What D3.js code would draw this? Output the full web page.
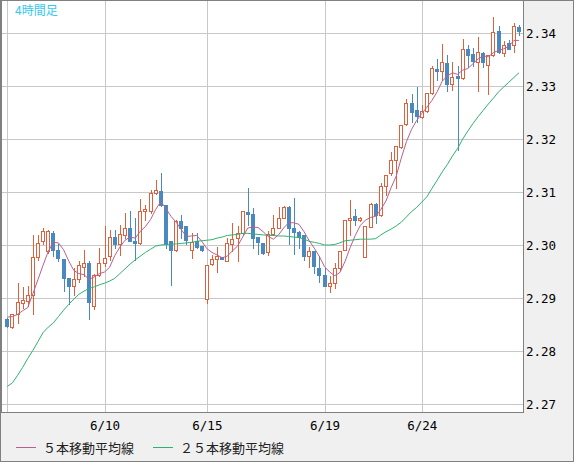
<!DOCTYPE html>
<html>
<head>
  <meta charset="utf-8">
  <title>4時間足</title>
  <script src="https://d3js.org/d3.v7.min.js"></script>
  <style>
    html, body { margin: 0; padding: 0; background: #f0f0f0; }
    svg { display: block; }
  </style>
</head>
<body>
  <svg id="chart" width="574" height="462"></svg>

  <script>
    // 4-hour candles
    const openPrices = [
      2.2860, 2.2845, 2.2869, 2.2891, 2.2894, 2.2906, 2.2977, 2.3007, 2.2988, 2.3023,
      2.2991, 2.2974, 2.2938, 2.2923, 2.2935, 2.2958, 2.2966, 2.2885, 2.2944, 2.2966,
      2.2979, 2.3015, 2.3001, 2.3019, 2.3032, 2.3008, 2.3004, 2.3064, 2.3064, 2.3099,
      2.3101, 2.3076, 2.3007, 2.2991, 2.3045, 2.3035, 2.2991, 2.3007, 2.2999, 2.2899,
      2.2964, 2.2974, 2.2977, 2.2970, 2.3001, 2.3013, 2.3023, 2.3062, 2.3058, 2.3016,
      2.3004, 2.2987, 2.3021, 2.3033, 2.3051, 2.3072, 2.3032, 2.3025, 2.3019, 2.2979,
      2.2988, 2.2957, 2.2944, 2.2922, 2.2928, 2.2957, 2.2991, 2.3048, 2.3054, 2.3047,
      2.2977, 2.3034, 2.3077, 2.3057, 2.3112, 2.3135, 2.3161, 2.3185, 2.3229, 2.3267,
      2.3254, 2.3242, 2.3252, 2.3286, 2.3333, 2.3329, 2.3343, 2.3303, 2.3318, 2.3315,
      2.3370, 2.3361, 2.3345, 2.3362, 2.3340, 2.3358, 2.3404, 2.3362, 2.3382, 2.3378,
      2.3411
    ];
    const highPrices = [
      2.2862, 2.2870, 2.2928, 2.2921, 2.2922, 2.3019, 2.3019, 2.3032, 2.3029, 2.3026,
      2.3001, 2.2974, 2.2938, 2.2957, 2.2970, 2.2990, 2.2969, 2.2946, 2.2994, 2.3035,
      2.3029, 2.3029, 2.3038, 2.3060, 2.3064, 2.3051, 2.3087, 2.3076, 2.3104, 2.3123,
      2.3136, 2.3076, 2.3007, 2.3047, 2.3056, 2.3035, 2.3023, 2.3023, 2.2999, 2.2963,
      2.2982, 2.2997, 2.2978, 2.3013, 2.3042, 2.3035, 2.3064, 2.3108, 2.3070, 2.3016,
      2.3004, 2.3026, 2.3057, 2.3071, 2.3073, 2.3074, 2.3089, 2.3026, 2.3019, 2.2997,
      2.2988, 2.2979, 2.2957, 2.2941, 2.2966, 2.2989, 2.3048, 2.3084, 2.3067, 2.3052,
      2.3036, 2.3079, 2.3079, 2.3117, 2.3133, 2.3175, 2.3187, 2.3227, 2.3275, 2.3284,
      2.3299, 2.3265, 2.3287, 2.3338, 2.3350, 2.3380, 2.3359, 2.3345, 2.3338, 2.3388,
      2.3377, 2.3372, 2.3392, 2.3364, 2.3359, 2.3430, 2.3413, 2.3384, 2.3387, 2.3419,
      2.3416
    ];
    const lowPrices = [
      2.2845, 2.2843, 2.2853, 2.2881, 2.2884, 2.2869, 2.2972, 2.3001, 2.2985, 2.2980,
      2.2969, 2.2914, 2.2889, 2.2906, 2.2931, 2.2941, 2.2860, 2.2879, 2.2941, 2.2960,
      2.2972, 2.2994, 2.2982, 2.3013, 2.3007, 2.2972, 2.3001, 2.3048, 2.3060, 2.3096,
      2.3073, 2.2994, 2.2925, 2.2988, 2.3013, 2.3001, 2.2975, 2.2994, 2.2989, 2.2891,
      2.2963, 2.2950, 2.2973, 2.2969, 2.2989, 2.2970, 2.3019, 2.3038, 2.2994, 2.2983,
      2.2983, 2.2982, 2.3018, 2.3032, 2.3050, 2.3001, 2.2983, 2.2994, 2.2972, 2.2958,
      2.2948, 2.2931, 2.2922, 2.2911, 2.2919, 2.2953, 2.2990, 2.3019, 2.3038, 2.3046,
      2.2977, 2.3034, 2.3042, 2.3054, 2.3095, 2.3133, 2.3108, 2.3183, 2.3227, 2.3233,
      2.3233, 2.3240, 2.3250, 2.3284, 2.3312, 2.3312, 2.3290, 2.3293, 2.3180, 2.3313,
      2.3335, 2.3337, 2.3290, 2.3336, 2.3284, 2.3356, 2.3362, 2.3356, 2.3369, 2.3364,
      2.3397
    ];
    const closePrices = [
      2.2847, 2.2869, 2.2892, 2.2897, 2.2906, 2.2977, 2.3004, 2.3026, 2.3026, 2.2990,
      2.2975, 2.2937, 2.2922, 2.2935, 2.2962, 2.2966, 2.2892, 2.2944, 2.2966, 2.2975,
      2.3015, 2.3001, 2.3021, 2.3032, 2.3007, 2.3004, 2.3064, 2.3067, 2.3099, 2.3103,
      2.3076, 2.3001, 2.2991, 2.3045, 2.3033, 2.3010, 2.3006, 2.2997, 2.2991, 2.2963,
      2.2974, 2.2979, 2.2974, 2.3004, 2.3012, 2.3023, 2.3064, 2.3059, 2.3013, 2.3005,
      2.2984, 2.3021, 2.3032, 2.3051, 2.3072, 2.3032, 2.3024, 2.3016, 2.2979, 2.2989,
      2.2960, 2.2944, 2.2922, 2.2928, 2.2957, 2.2989, 2.3048, 2.3051, 2.3047, 2.3051,
      2.3036, 2.3077, 2.3057, 2.3112, 2.3133, 2.3160, 2.3186, 2.3227, 2.3268, 2.3250,
      2.3243, 2.3252, 2.3287, 2.3334, 2.3328, 2.3345, 2.3303, 2.3317, 2.3315, 2.3370,
      2.3359, 2.3347, 2.3364, 2.3345, 2.3359, 2.3402, 2.3365, 2.3378, 2.3369, 2.3414,
      2.3403
    ];

    // moving averages as drawn on the chart
    const ma5 = [
      2.2864, 2.2865, 2.2869, 2.2876, 2.2882, 2.2908, 2.2935, 2.2962, 2.2988, 2.3005,
      2.3004, 2.2991, 2.2970, 2.2952, 2.2946, 2.2944, 2.2935, 2.2940, 2.2946, 2.2949,
      2.2958, 2.2980, 2.2996, 2.3009, 2.3015, 2.3013, 2.3026, 2.3035, 2.3048, 2.3067,
      2.3082, 2.3069, 2.3054, 2.3043, 2.3029, 2.3016, 2.3017, 2.3018, 2.3007, 2.2993,
      2.2986, 2.2981, 2.2976, 2.2979, 2.2989, 2.2998, 2.3015, 2.3032, 2.3034, 2.3033,
      2.3025, 2.3016, 2.3011, 2.3019, 2.3032, 2.3042, 2.3042, 2.3039, 2.3025, 2.3008,
      2.2994, 2.2978, 2.2959, 2.2949, 2.2942, 2.2948, 2.2969, 2.2995, 2.3018, 2.3037,
      2.3047, 2.3052, 2.3054, 2.3067, 2.3083, 2.3108, 2.3130, 2.3164, 2.3195, 2.3218,
      2.3235, 2.3248, 2.3260, 2.3273, 2.3289, 2.3309, 2.3319, 2.3325, 2.3322, 2.3330,
      2.3333, 2.3342, 2.3351, 2.3357, 2.3355, 2.3363, 2.3367, 2.3370, 2.3375, 2.3386,
      2.3386
    ];
    const ma25 = [
      2.2733, 2.2740, 2.2754, 2.2769, 2.2786, 2.2801, 2.2818, 2.2835, 2.2845, 2.2853,
      2.2865, 2.2877, 2.2888, 2.2898, 2.2907, 2.2913, 2.2918, 2.2921, 2.2925, 2.2928,
      2.2932, 2.2937, 2.2946, 2.2955, 2.2964, 2.2972, 2.2979, 2.2986, 2.2992, 2.2998,
      2.3000, 2.3001, 2.3002, 2.3002, 2.3003, 2.3004, 2.3005, 2.3007, 2.3008, 2.3009,
      2.3010, 2.3013, 2.3015, 2.3018, 2.3019, 2.3020, 2.3022, 2.3022, 2.3021, 2.3020,
      2.3019, 2.3018, 2.3018, 2.3017, 2.3017, 2.3016, 2.3015, 2.3014, 2.3011, 2.3007,
      2.3005, 2.3003, 2.3000, 2.3000, 2.3001, 2.3004, 2.3008, 2.3009, 2.3010, 2.3011,
      2.3011, 2.3011, 2.3012, 2.3019, 2.3025, 2.3030, 2.3036, 2.3043, 2.3053, 2.3063,
      2.3071, 2.3081, 2.3091, 2.3107, 2.3122, 2.3138, 2.3152, 2.3168, 2.3182, 2.3200,
      2.3215, 2.3229, 2.3242, 2.3254, 2.3266, 2.3277, 2.3289, 2.3298, 2.3307, 2.3316,
      2.3325
    ];

    // axis ticks
    const priceTicks = [2.27, 2.28, 2.29, 2.30, 2.31, 2.32, 2.33, 2.34];
    const dateTickIndex = [0, 19, 39, 62, 81];
    const dateTickLabels = ['', '6/10', '6/15', '6/19', '6/24'];

    const upColor = '#e0603c';
    const downColor = '#4a88c0';
    const gridColor = '#c8c8c8';
    const frameColor = '#808080';

    const svg = d3.select('#chart');
    const W = 574, H = 462;
    const plot = { left: 1.5, top: 0.5, right: 523.5, bottom: 412.5 };

    const x = d3.scaleLinear()
      .domain([0, closePrices.length - 1])
      .range([7.3, 519]);

    const y = d3.scaleLinear()
      .domain([2.27, 2.34])
      .range([404, 33]);

    // background and frames
    svg.append('rect')
      .attr('x', 0.5).attr('y', 0.5)
      .attr('width', W - 1).attr('height', H - 1)
      .attr('fill', '#f0f0f0')
      .attr('stroke', frameColor);

    svg.append('rect')
      .attr('x', plot.left).attr('y', plot.top)
      .attr('width', plot.right - plot.left)
      .attr('height', plot.bottom - plot.top)
      .attr('fill', '#fff')
      .attr('stroke', frameColor);

    // grid
    const grid = svg.append('g')
      .attr('stroke', gridColor)
      .attr('stroke-width', 1)
      .attr('shape-rendering', 'crispEdges');

    grid.selectAll('line.h')
      .data(priceTicks)
      .join('line')
      .attr('class', 'h')
      .attr('x1', 2).attr('x2', plot.right - 0.5)
      .attr('y1', d => Math.round(y(d)) + 0.5)
      .attr('y2', d => Math.round(y(d)) + 0.5);

    grid.selectAll('line.v')
      .data(dateTickIndex)
      .join('line')
      .attr('class', 'v')
      .attr('y1', 1).attr('y2', plot.bottom - 0.5)
      .attr('x1', d => Math.round(x(d)) + 0.5)
      .attr('x2', d => Math.round(x(d)) + 0.5);

    // candles
    const candles = closePrices.map((c, i) => ({
      i, o: openPrices[i], h: highPrices[i], l: lowPrices[i], c
    }));

    const cg = svg.append('g').attr('shape-rendering', 'crispEdges');

    cg.selectAll('line.wick')
      .data(candles)
      .join('line')
      .attr('class', 'wick')
      .attr('x1', d => Math.round(x(d.i)) + 0.5)
      .attr('x2', d => Math.round(x(d.i)) + 0.5)
      .attr('y1', d => Math.round(y(d.h)))
      .attr('y2', d => Math.round(y(d.l)) + 1)
      .attr('stroke', d => d.c >= d.o ? upColor : downColor);

    // rising candles: hollow
    cg.selectAll('rect.up')
      .data(candles.filter(d => d.c >= d.o))
      .join('rect')
      .attr('class', 'up')
      .attr('x', d => Math.round(x(d.i)) - 1.5)
      .attr('width', 3)
      .attr('y', d => Math.round(y(d.c)) + 0.5)
      .attr('height', d => Math.max(1, Math.round(y(d.o)) - Math.round(y(d.c))))
      .attr('fill', '#fff')
      .attr('stroke', upColor);

    // falling candles: filled
    cg.selectAll('rect.down')
      .data(candles.filter(d => d.c < d.o))
      .join('rect')
      .attr('class', 'down')
      .attr('x', d => Math.round(x(d.i)) - 2)
      .attr('width', 4)
      .attr('y', d => Math.round(y(d.o)))
      .attr('height', d => Math.max(2, Math.round(y(d.c)) - Math.round(y(d.o)) + 1))
      .attr('fill', downColor);

    // moving averages
    const line = d3.line()
      .x((d, i) => x(i))
      .y(d => y(d));

    svg.append('path')
      .datum(ma25)
      .attr('d', line)
      .attr('fill', 'none')
      .attr('stroke', '#2db370')
      .attr('stroke-width', 1);

    svg.append('path')
      .datum(ma5)
      .attr('d', line)
      .attr('fill', 'none')
      .attr('stroke', '#b8608f')
      .attr('stroke-width', 1);

    // axes
    const monoFont = '"DejaVu Sans Mono", "Liberation Mono", monospace';

    const yAxis = svg.append('g')
      .attr('transform', `translate(${plot.right},0)`)
      .call(d3.axisRight(y)
        .tickValues(priceTicks)
        .tickSize(0)
        .tickPadding(2.5)
        .tickFormat(d3.format('.2f')));
    yAxis.select('.domain').remove();
    yAxis.selectAll('text')
      .attr('font-family', monoFont)
      .attr('font-size', 12.5)
      .attr('fill', '#000');

    const xAxis = svg.append('g')
      .attr('transform', `translate(0,${plot.bottom})`)
      .call(d3.axisBottom(x)
        .tickValues(dateTickIndex)
        .tickSize(0)
        .tickPadding(8.5)
        .tickFormat((d, i) => dateTickLabels[i]));
    xAxis.select('.domain').remove();
    xAxis.selectAll('text')
      .attr('font-family', monoFont)
      .attr('font-size', 12.5)
      .attr('fill', '#000');

    // title
    svg.append('text')
      .attr('x', 15).attr('y', 15)
      .attr('font-family', '"Noto Sans CJK JP", sans-serif')
      .attr('font-size', 12)
      .attr('fill', '#33c8ee')
      .text('4時間足');

    // legend
    const legendItems = [
      { label: '５本移動平均線', color: '#b8608f', x: 16 },
      { label: '２５本移動平均線', color: '#2db370', x: 153 }
    ];
    const legend = svg.append('g');
    legend.selectAll('line')
      .data(legendItems)
      .join('line')
      .attr('x1', d => d.x).attr('x2', d => d.x + 20)
      .attr('y1', 447.5).attr('y2', 447.5)
      .attr('stroke', d => d.color);
    legend.selectAll('text')
      .data(legendItems)
      .join('text')
      .attr('x', d => d.x + 27)
      .attr('y', 453)
      .attr('font-family', '"Noto Sans CJK JP", sans-serif')
      .attr('font-size', 13)
      .attr('fill', '#222')
      .text(d => d.label);
  </script>
</body>
</html>
